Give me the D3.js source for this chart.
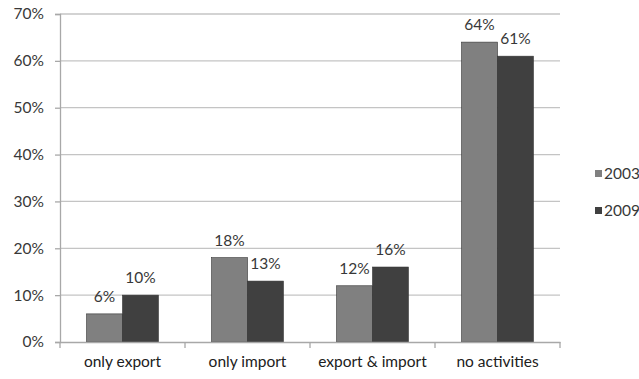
<!DOCTYPE html>
<html><head><meta charset="utf-8">
<script src="https://cdn.jsdelivr.net/npm/d3@7"></script>
<style>body{margin:0;background:#fff}text{font-family:Lato,"Open Sans",sans-serif}</style>
</head><body><svg id="c" width="639" height="379"></svg>
<script>
const categories = ["only export","only import","export & import","no activities"];
const series = ["2003","2009"];
const values2003 = [6,18,12,64];
const values2009 = [10,13,16,61];
const yTicks = [0,10,20,30,40,50,60,70];
const colors = ["#808080","#404040"];
const FS = 15.5;

const svg = d3.select("#c");
const m = {l:60, r:79, t:14, b:37};
const W = 639, H = 379;
const x = d3.scaleBand().domain(categories).range([m.l, W-m.r]).paddingInner(0).paddingOuter(0);
const y = d3.scaleLinear().domain([0,70]).range([H-m.b, m.t]);
const inner = d3.scaleBand().domain(series).range([0, x.bandwidth()]).paddingOuter(0.74).paddingInner(0);

// gridlines
svg.append("g").selectAll("line").data(yTicks.filter(d=>d>0)).join("line")
  .attr("x1", m.l).attr("x2", W-m.r).attr("y1", d=>y(d)).attr("y2", d=>y(d))
  .attr("stroke","#c4c4c4").attr("stroke-width",1.3);

// y axis
const ya = svg.append("g").attr("transform",`translate(${m.l},0)`)
  .call(d3.axisLeft(y).tickValues(yTicks).tickFormat(d=>d+"%").tickSize(5).tickPadding(11));
ya.select(".domain").attr("stroke","#a8a8a8").attr("stroke-width",1.3);
ya.selectAll(".tick line").attr("stroke","#a8a8a8").attr("stroke-width",1.3);
ya.selectAll("text").attr("font-size",FS).attr("fill","#383838");

// bars
const data = categories.map((c,i)=>({c, v:[values2003[i], values2009[i]]}));
const g = svg.append("g");
data.forEach(d=>{
  series.forEach((s,j)=>{
    g.append("rect").attr("x", x(d.c)+inner(s)).attr("width", inner.bandwidth())
      .attr("y", y(d.v[j])).attr("height", y(0)-y(d.v[j]))
      .attr("fill", colors[j]).attr("stroke","#333").attr("stroke-width",0.6);
    g.append("text").attr("x", x(d.c)+inner(s)+inner.bandwidth()/2).attr("y", y(d.v[j])-12)
      .attr("text-anchor","middle").attr("font-size",FS).attr("fill","#383838").text(d.v[j]+"%");
  });
});

// x axis
const xa = svg.append("g").attr("transform",`translate(0,${y(0)})`)
  .call(d3.axisBottom(x).tickSize(0).tickPadding(14));
xa.select(".domain").attr("stroke","#a8a8a8").attr("stroke-width",1.3);
xa.selectAll("text").attr("font-size",FS).attr("fill","#202020");
// category boundary ticks
svg.append("g").selectAll("line").data(d3.range(categories.length+1)).join("line")
  .attr("x1", i=>m.l + i*x.step()).attr("x2", i=>m.l + i*x.step())
  .attr("y1", y(0)).attr("y2", y(0)+6).attr("stroke","#a8a8a8").attr("stroke-width",1.3);

// legend
const lg = svg.append("g").attr("transform","translate(595,0)");
series.forEach((s,j)=>{
  const yy = [174,211][j];
  lg.append("rect").attr("x",0).attr("y",yy-4).attr("width",7).attr("height",7).attr("fill",colors[j]);
  lg.append("text").attr("x",9).attr("y",yy+5).attr("font-size",FS).attr("fill","#383838").text(s);
});
</script></body></html>
